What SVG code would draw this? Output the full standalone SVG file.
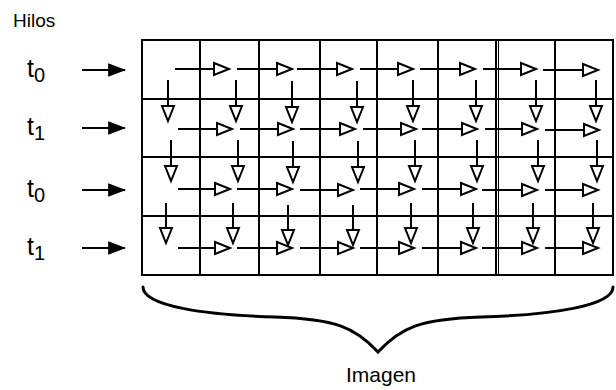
<svg xmlns="http://www.w3.org/2000/svg" width="616" height="390" viewBox="0 0 616 390">
  <style>
    .grid { stroke: #000; stroke-width: 2; fill: none; }
    .flow { stroke: #000; stroke-width: 2; fill: none; marker-end: url(#open); }
    .feed { stroke: #000; stroke-width: 2; fill: none; marker-end: url(#solid); }
    .lbl { font-family: "Liberation Sans", Arial, sans-serif; fill: #000; }
    .brace { stroke: #000; stroke-width: 3; fill: none; stroke-linecap: round; stroke-linejoin: miter; }
  </style>
  <defs>
    <marker id="open" markerUnits="userSpaceOnUse" markerWidth="20" markerHeight="16" viewBox="-2 -2 20 16" refX="15" refY="6" orient="auto">
      <path d="M0,0 L15,6 L0,12 Z" fill="#fff" stroke="#000" stroke-width="2" stroke-linejoin="miter"/>
    </marker>
    <marker id="solid" markerUnits="userSpaceOnUse" markerWidth="18" markerHeight="14" viewBox="0 0 16 12" refX="15" refY="6" orient="auto">
      <path d="M0,0 L16,6 L0,12 Z" fill="#000"/>
    </marker>
  </defs>

  <rect width="616" height="390" fill="#fff"/>

  <!-- labels -->
  <g id="title">
    <text class="lbl" x="13" y="27" font-size="19">Hilos</text>
  </g>
  <g id="thread-row-1">
    <text class="lbl" x="27" y="77" font-size="25">t<tspan font-size="20" dy="5">0</tspan></text>
  </g>
  <g id="thread-row-2">
    <text class="lbl" x="27" y="135" font-size="25">t<tspan font-size="20" dy="5">1</tspan></text>
  </g>
  <g id="thread-row-3">
    <text class="lbl" x="27" y="197" font-size="25">t<tspan font-size="20" dy="5">0</tspan></text>
  </g>
  <g id="thread-row-4">
    <text class="lbl" x="27" y="255" font-size="25">t<tspan font-size="20" dy="5">1</tspan></text>
  </g>

  <!-- pixel grid -->
  <g id="image-grid" class="grid">
    <rect x="142" y="40" width="471" height="235"/>
    <line x1="200" y1="40" x2="200" y2="275"/>
    <line x1="259" y1="40" x2="259" y2="275"/>
    <line x1="320" y1="40" x2="320" y2="275"/>
    <line x1="377" y1="40" x2="377" y2="275"/>
    <line x1="438" y1="40" x2="438" y2="275"/>
    <line x1="496" y1="40" x2="496" y2="275"/>
    <line x1="498.5" y1="40" x2="498.5" y2="275" stroke-width="1"/>
    <line x1="555" y1="40" x2="555" y2="275"/>
    <line x1="142" y1="99" x2="613" y2="99"/>
    <line x1="142" y1="157" x2="613" y2="157"/>
    <line x1="142" y1="216" x2="613" y2="216"/>
  </g>

  <g id="connectors">
    <!-- thread entry arrows -->
    <line class="feed" x1="82" y1="70" x2="125" y2="70"/>
    <line class="feed" x1="82" y1="128" x2="125" y2="128"/>
    <line class="feed" x1="82" y1="190" x2="125" y2="190"/>
    <line class="feed" x1="82" y1="248" x2="125" y2="248"/>

    <!-- row 1 -->
    <path class="flow" d="M175,69H229"/>
    <path class="flow" d="M237,69H292"/>
    <path class="flow" d="M297,69H352"/>
    <path class="flow" d="M360,69H413"/>
    <path class="flow" d="M420,69H475"/>
    <path class="flow" d="M483,69H536"/>
    <path class="flow" d="M543,70H598"/>
    <!-- row 1 to 2 -->
    <path class="flow" d="M168,80V121"/>
    <path class="flow" d="M236,80V121"/>
    <path class="flow" d="M292,81V122"/>
    <path class="flow" d="M357,81V122"/>
    <path class="flow" d="M413,80V121"/>
    <path class="flow" d="M476,80V121"/>
    <path class="flow" d="M536,80V121"/>
    <path class="flow" d="M596,80V121"/>
    <!-- row 2 -->
    <path class="flow" d="M178,129H232"/>
    <path class="flow" d="M240,129H293"/>
    <path class="flow" d="M300,129H355"/>
    <path class="flow" d="M363,129H416"/>
    <path class="flow" d="M422,129H477"/>
    <path class="flow" d="M485,129H537"/>
    <path class="flow" d="M545,130H599"/>
    <!-- row 2 to 3 -->
    <path class="flow" d="M171,140V181"/>
    <path class="flow" d="M238,140V181"/>
    <path class="flow" d="M293,141V182"/>
    <path class="flow" d="M358,141V182"/>
    <path class="flow" d="M415,140V181"/>
    <path class="flow" d="M477,140V181"/>
    <path class="flow" d="M538,140V181"/>
    <path class="flow" d="M597,140V181"/>
    <!-- row 3 -->
    <path class="flow" d="M178,189H230"/>
    <path class="flow" d="M237,189H292"/>
    <path class="flow" d="M300,190H353"/>
    <path class="flow" d="M360,189H414"/>
    <path class="flow" d="M422,189H476"/>
    <path class="flow" d="M482,190H537"/>
    <path class="flow" d="M545,190H598"/>
    <!-- row 3 to 4 -->
    <path class="flow" d="M166,203V243"/>
    <path class="flow" d="M233,203V243"/>
    <path class="flow" d="M288,205V245"/>
    <path class="flow" d="M353,205V245"/>
    <path class="flow" d="M411,203V243"/>
    <path class="flow" d="M473,203V243"/>
    <path class="flow" d="M533,203V243"/>
    <path class="flow" d="M593,203V243"/>
    <!-- row 4 -->
    <path class="flow" d="M178,248H230"/>
    <path class="flow" d="M237,248H292"/>
    <path class="flow" d="M300,248H353"/>
    <path class="flow" d="M360,248H414"/>
    <path class="flow" d="M422,248H476"/>
    <path class="flow" d="M482,248H537"/>
    <path class="flow" d="M545,248H598"/>
  </g>

  <!-- brace under the grid -->
  <g id="image-brace">
    <path class="brace" d="M143,287 C143,306 205,315 275,317 C335,319 355,327 378,352 C401,327 421,319 481,317 C551,315 613,306 613,287"/>
    <text class="lbl" x="381" y="382" font-size="21" text-anchor="middle">Imagen</text>
  </g>
</svg>
